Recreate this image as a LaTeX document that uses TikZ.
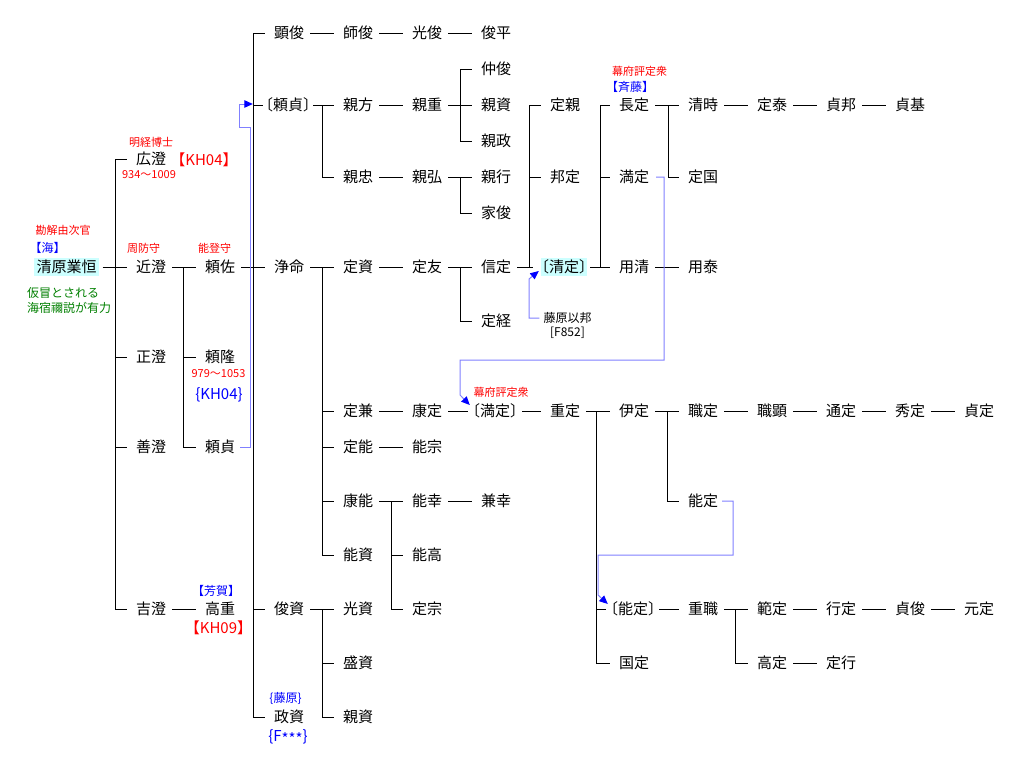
\documentclass[tikz,border=0pt]{standalone}
\usepackage{fontspec}
\setmainfont{Noto Sans CJK JP}
\usetikzlibrary{arrows.meta}
\definecolor{hlc}{HTML}{CCFFFF}
\definecolor{lnb}{HTML}{8080FF}
\definecolor{rd}{HTML}{FF0000}
\definecolor{bu}{HTML}{0000FF}
\definecolor{gr}{HTML}{008000}
\newcommand\lk[2]{\draw[ln] ([xshift=6pt]#1.east) -- ([xshift=-9pt]#2.west);}
\newcommand\fk[6]{%
  \draw[ln] ([xshift=#2]#1.east) -- (#3,0 |- #1.center);
  \draw[ln] (#3,0 |- #4.center) -- (#3,0 |- #5.center);
  \foreach \ch/\g in {#6} {\draw[ln] (#3,0 |- \ch.center) -- ([xshift=-\g]\ch.west);}%
}
\newcommand\lowast{\raisebox{-0.22em}{*}}
\begin{document}
\begin{tikzpicture}[x=1pt,y=-1pt,
  nm/.style={font=\fontsize{15}{18}\selectfont, inner sep=0pt, text height=12.5pt, text depth=1.5pt},
  br/.style={nm, inner xsep=-7pt},
  hl/.style={fill=hlc, inner ysep=2pt},
  rs/.style={font=\fontsize{11}{13}\selectfont, text=rd, inner sep=0pt, text height=9.1pt, text depth=1pt},
  bs/.style={font=\fontsize{12}{14}\selectfont, text=bu, inner sep=0pt, text height=10pt, text depth=1.1pt},
  gs/.style={font=\fontsize{12}{14}\selectfont, text=gr, inner sep=0pt, text height=10pt, text depth=1.1pt},
  ks/.style={font=\fontsize{12}{14}\selectfont, text=black, inner sep=0pt, text height=10pt, text depth=1.1pt},
  rb/.style={font=\fontsize{15}{18}\selectfont, text=rd, inner sep=0pt, text height=12.5pt, text depth=1.5pt},
  bb/.style={font=\fontsize{15}{18}\selectfont, text=bu, inner sep=0pt, text height=12.5pt, text depth=1.5pt},
  ln/.style={draw=black, line width=1pt},
  bl/.style={draw=lnb, line width=1pt, -{Triangle[length=8.5pt,width=7.5pt,color=bu]}}
]
\useasboundingbox (0,0) rectangle (1013,772);
\fill[white] (0,0) rectangle (1013,772);

% ---- main nodes ----
\node[nm,hl,inner xsep=2.5pt] (kiyo) at (66.5,267) {清原業恒};
\node[nm] (hiro) at (151,159) {広澄};
\node[nm] (chika) at (151,267) {近澄};
\node[nm] (masa) at (151,357) {正澄};
\node[nm] (yosi) at (151,447) {善澄};
\node[nm] (yosz) at (151,609) {吉澄};
\node[nm] (yrsk) at (220,267) {頼佐};
\node[nm] (yrtk) at (220,357) {頼隆};
\node[nm] (yrsd) at (220,447) {頼貞};
\node[nm] (takas) at (220,609) {高重};
\node[nm] (akit) at (289,33) {顕俊};
\node[br] (yrsB) at (288,105) {〔頼貞〕};
\node[nm] (jomy) at (289,267) {浄命};
\node[nm] (tosisuke) at (289,609) {俊資};
\node[nm] (masasuke) at (289,717) {政資};
\node[nm] (morot) at (358,33) {師俊};
\node[nm] (mitut) at (427,33) {光俊};
\node[nm] (tosih) at (496,33) {俊平};
\node[nm] (chikak) at (358,105) {親方};
\node[nm] (chikas) at (427,105) {親重};
\node[nm] (nakat) at (496,69) {仲俊};
\node[nm] (chikasu) at (496,105) {親資};
\node[nm] (chikam) at (496,141) {親政};
\node[nm] (chikat) at (358,177) {親忠};
\node[nm] (chikahi) at (427,177) {親弘};
\node[nm] (chikay) at (496,177) {親行};
\node[nm] (iet) at (496,213) {家俊};
\node[nm] (sadasu) at (358,267) {定資};
\node[nm] (sadat) at (427,267) {定友};
\node[nm] (nobus) at (496,267) {信定};
\node[nm] (sadatu) at (496,321) {定経};
\node[nm] (sadach) at (565,105) {定親};
\node[nm] (kunis) at (565,177) {邦定};
\node[br,hl] (kiyoB) at (564,267) {〔清定〕};
\node[nm] (nagas) at (634,105) {長定};
\node[nm] (mitsu) at (634,177) {満定};
\node[nm] (mochik) at (634,267) {用清};
\node[nm] (kiyot) at (703,105) {清時};
\node[nm] (sadak) at (703,177) {定国};
\node[nm] (mochiy) at (703,267) {用泰};
\node[nm] (sadayasu) at (772,105) {定泰};
\node[nm] (sadakuni) at (841,105) {貞邦};
\node[nm] (sadamoto) at (910,105) {貞基};
\node[nm] (sadakan) at (358,411) {定兼};
\node[nm] (yasus) at (427,411) {康定};
\node[br] (mitsuB) at (495,411) {〔満定〕};
\node[nm] (shiges) at (565,411) {重定};
\node[nm] (koresa) at (634,411) {伊定};
\node[nm] (motos) at (703,411) {職定};
\node[nm] (motoa) at (772,411) {職顕};
\node[nm] (michis) at (841,411) {通定};
\node[nm] (hides) at (910,411) {秀定};
\node[nm] (sadasa) at (979,411) {貞定};
\node[nm] (sadayo) at (358,447) {定能};
\node[nm] (yosimu) at (427,447) {能宗};
\node[nm] (yasuyo) at (358,501) {康能};
\node[nm] (yosiyu) at (427,501) {能幸};
\node[nm] (kaneyu) at (496,501) {兼幸};
\node[nm] (yosis) at (703,501) {能定};
\node[nm] (yosisk) at (358,555) {能資};
\node[nm] (yositk) at (427,555) {能高};
\node[nm] (sadamu) at (427,609) {定宗};
\node[nm] (mitusk) at (358,609) {光資};
\node[nm] (morisk) at (358,663) {盛資};
\node[nm] (chikask) at (358,717) {親資};
\node[br] (yosiB) at (633,609) {〔能定〕};
\node[nm] (kunisb) at (634,663) {国定};
\node[nm] (shigem) at (703,609) {重職};
\node[nm] (norisa) at (772,609) {範定};
\node[nm] (yukis) at (841,609) {行定};
\node[nm] (sadatos) at (910,609) {貞俊};
\node[nm] (motosa) at (979,609) {元定};
\node[nm] (takasa) at (772,663) {高定};
\node[nm] (sadayu) at (841,663) {定行};

% ---- labels ----
\node[rs] (l1) at (63,230) {勘解由次官};
\node[bs] (l2) at (47.5,248) {【海】};
\node[gs,anchor=west] (l3) at (27,293) {仮冒とされる};
\node[gs,anchor=west] (l4) at (27,308) {海宿禰説が有力};
\node[rs] (l5) at (151,142) {明経博士};
\node[rb] (l6) at (204,160) {【KH04】};
\node[rs] (l7) at (149,174) {934～1009};
\node[rs] (l8) at (143.5,248) {周防守};
\node[rs] (l9) at (214.5,248) {能登守};
\node[rs] (l10) at (218.5,373) {979～1053};
\node[bb] (l11) at (219,394) {\{KH04\}};
\node[bs] (l12) at (216,591) {【芳賀】};
\node[rb] (l13) at (218.5,628) {【KH09】};
\node[bs] (l14) at (285.5,698) {\{藤原\}};
\node[bb] (l15) at (288,736) {\{F\lowast\lowast\lowast\}};
\node[rs] (l16) at (639.5,71) {幕府評定衆};
\node[bs] (l17) at (630,87) {【斉藤】};
\node[rs] (l18) at (501,392) {幕府評定衆};
\node[ks] (fjw) at (567.5,318) {藤原以邦};
\node[ks] (l19) at (567.5,332) {[F852]};

% ---- simple links ----
\lk{yosz}{takas}
\lk{akit}{morot}\lk{morot}{mitut}\lk{mitut}{tosih}
\lk{chikak}{chikas}
\lk{chikat}{chikahi}
\lk{sadasu}{sadat}
\lk{kiyot}{sadayasu}\lk{sadayasu}{sadakuni}\lk{sadakuni}{sadamoto}
\lk{mochik}{mochiy}
\lk{sadakan}{yasus}
\draw[ln] ([xshift=6pt]yasus.east) -- ([xshift=-4pt]mitsuB.west);
\draw[ln] ([xshift=4pt]mitsuB.east) -- ([xshift=-9pt]shiges.west);
\lk{motos}{motoa}\lk{motoa}{michis}\lk{michis}{hides}\lk{hides}{sadasa}
\lk{sadayo}{yosimu}
\lk{yosiyu}{kaneyu}
\draw[ln] ([xshift=3pt]yosiB.east) -- ([xshift=-9pt]shigem.west);
\lk{norisa}{yukis}\lk{yukis}{sadatos}\lk{sadatos}{motosa}
\lk{takasa}{sadayu}

% ---- forks ----
\fk{kiyo}{3.5pt}{115}{hiro}{yosz}{hiro/9pt,chika/9pt,masa/9pt,yosi/9pt,yosz/9pt}
\fk{chika}{6pt}{183}{yrsk}{yrsd}{yrsk/9pt,yrtk/9pt,yrsd/9pt}
\fk{yrsk}{6pt}{253}{akit}{masasuke}{akit/9pt,yrsB/2pt,jomy/9pt,tosisuke/9pt,masasuke/9pt}
\fk{yrsB}{2pt}{322}{chikak}{chikat}{chikak/9pt,chikat/9pt}
\fk{chikas}{6pt}{460}{nakat}{chikam}{nakat/9pt,chikasu/9pt,chikam/9pt}
\fk{chikahi}{6pt}{460}{chikay}{iet}{chikay/9pt,iet/9pt}
\fk{jomy}{6pt}{322}{sadasu}{yosisk}{sadasu/9pt,sadakan/9pt,sadayo/9pt,yasuyo/9pt,yosisk/9pt}
\fk{sadat}{6pt}{460}{nobus}{sadatu}{nobus/9pt,sadatu/9pt}
\fk{nobus}{6pt}{529}{sadach}{kiyoB}{sadach/9pt,kunis/9pt,kiyoB/8pt}
\fk{kiyoB}{3pt}{600}{nagas}{mochik}{nagas/9pt,mitsu/9pt,mochik/9pt}
\fk{nagas}{6pt}{668}{kiyot}{sadak}{kiyot/9pt,sadak/9pt}
\fk{shiges}{6pt}{596}{koresa}{kunisb}{koresa/9pt,yosiB/4pt,kunisb/9pt}
\fk{koresa}{6pt}{667}{motos}{yosis}{motos/9pt,yosis/9pt}
\fk{yasuyo}{6pt}{391}{yosiyu}{sadamu}{yosiyu/9pt,yositk/9pt,sadamu/9pt}
\fk{tosisuke}{6pt}{322}{mitusk}{chikask}{mitusk/9pt,morisk/9pt,chikask/9pt}
\fk{shigem}{6pt}{735}{norisa}{takasa}{norisa/9pt,takasa/9pt}

% ---- blue cross references ----
\draw[bl] ([xshift=5pt]yrsd.east) -- (250.5,447) -- (250.5,127) -- (239,127) -- (239,104) -- ([xshift=-12pt,yshift=1pt]yrsB.west);
\draw[bl] ([xshift=7pt]mitsu.east) -- (664,177) -- (664,360) -- (460,360) -- (460,395) -- ([xshift=-2pt,yshift=6pt]mitsuB.west);
\draw[bl] ([xshift=-4pt]fjw.west) -- (529,318) -- (529,279) -- ([xshift=-2pt,yshift=-4pt]kiyoB.west);
\draw[bl] ([xshift=4pt]yosis.east) -- (733,501) -- (733,555) -- (598,555) -- (598,595) -- ([xshift=-2pt,yshift=5pt]yosiB.west);
\end{tikzpicture}
\end{document}
